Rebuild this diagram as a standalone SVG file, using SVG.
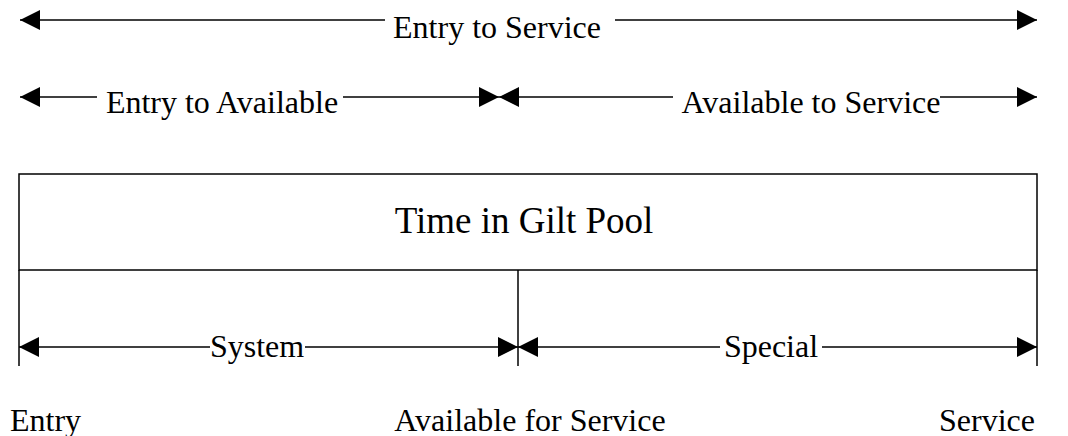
<svg xmlns="http://www.w3.org/2000/svg" width="1068" height="436" viewBox="0 0 1068 436">
<style>
.ln{stroke:#000;stroke-width:1.5;fill:none}
.t{font-size:32px;fill:#000}
.big{font-size:37px}
</style>
<defs>
<marker id="ah" markerUnits="userSpaceOnUse" markerWidth="20" markerHeight="20" refX="20" refY="10" orient="auto-start-reverse" viewBox="0 0 20 20">
<path d="M0,0 L20,10 L0,20 Z" fill="#000"/>
</marker>
</defs>
<rect width="1068" height="436" fill="#fff"/>
<g id="connectors">
<line class="ln" x1="20" y1="20" x2="385" y2="20" marker-start="url(#ah)"/>
<line class="ln" x1="615" y1="20" x2="1037" y2="20" marker-end="url(#ah)"/>
<line class="ln" x1="20" y1="97" x2="97" y2="97" marker-start="url(#ah)"/>
<line class="ln" x1="343" y1="97" x2="499" y2="97" marker-end="url(#ah)"/>
<line class="ln" x1="499" y1="97" x2="673" y2="97" marker-start="url(#ah)"/>
<line class="ln" x1="940" y1="97" x2="1037" y2="97" marker-end="url(#ah)"/>
<line class="ln" x1="19" y1="347" x2="210" y2="347" marker-start="url(#ah)"/>
<line class="ln" x1="305" y1="347" x2="518" y2="347" marker-end="url(#ah)"/>
<line class="ln" x1="518" y1="347" x2="720" y2="347" marker-start="url(#ah)"/>
<line class="ln" x1="822" y1="347" x2="1037" y2="347" marker-end="url(#ah)"/>
</g>
<g font-family="Liberation Serif, DejaVu Serif, serif">
<g id="labels-top">
<text class="t" x="497" y="38" text-anchor="middle">Entry to Service</text>
<text class="t" x="222" y="113" text-anchor="middle">Entry to Available</text>
<text class="t" x="811" y="113" text-anchor="middle">Available to Service</text>
</g>
<g id="pool">
<rect class="ln" x="19" y="174" width="1018" height="96"/>
<text class="t big" x="524" y="233" text-anchor="middle">Time in Gilt Pool</text>
</g>
<g id="timeline">
<line class="ln" x1="19" y1="270" x2="19" y2="366"/>
<line class="ln" x1="518" y1="270" x2="518" y2="366"/>
<line class="ln" x1="1037" y1="270" x2="1037" y2="366"/>
<text class="t" x="257" y="357" text-anchor="middle">System</text>
<text class="t" x="771" y="357" text-anchor="middle">Special</text>
</g>
<g id="points">
<text class="t" x="10" y="431">Entry</text>
<text class="t" x="530" y="431" text-anchor="middle">Available for Service</text>
<text class="t" x="1035" y="431" text-anchor="end">Service</text>
</g>
</g>
</svg>
